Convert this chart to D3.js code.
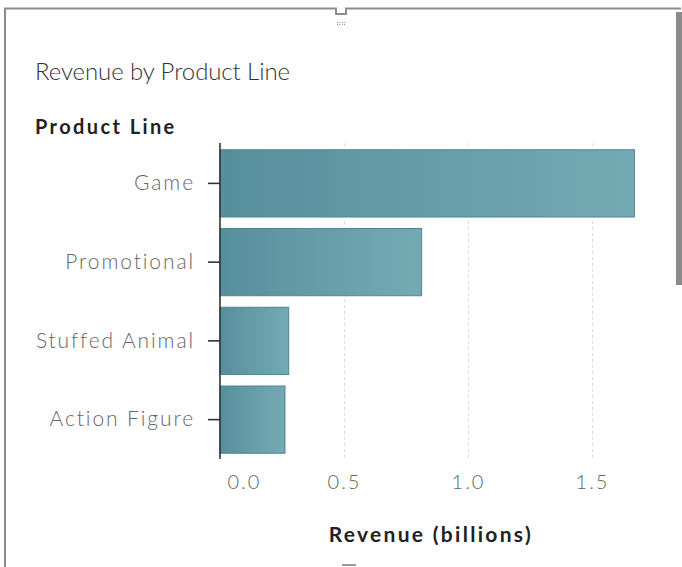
<!DOCTYPE html>
<html>
<head>
<meta charset="utf-8">
<script src="https://cdn.jsdelivr.net/npm/d3@7"></script>
<style>
  html, body { margin: 0; padding: 0; background: #fff; }
  svg { display: block; }
</style>
</head>
<body>
<script>
const categories = ["Game", "Promotional", "Stuffed Animal", "Action Figure"];
const revenue = [1.671, 0.813, 0.277, 0.262];
const tickValues = [0.0, 0.5, 1.0, 1.5];
const tickLabels = ["0.0", "0.5", "1.0", "1.5"];
const chartTitle = "Revenue by Product Line";
const yTitle = "Product Line";
const xTitle = "Revenue (billions)";

const W = 682, H = 567;
const font = "Lato, 'Open Sans', sans-serif";

const svg = d3.select("body").append("svg").attr("width", W).attr("height", H);

// gradient
const defs = svg.append("defs");
const grad = defs.append("linearGradient").attr("id", "barGrad")
  .attr("x1", "0").attr("y1", "0").attr("x2", "1").attr("y2", "0");
grad.append("stop").attr("offset", "0").attr("stop-color", "#568f9c");
grad.append("stop").attr("offset", "1").attr("stop-color", "#74aab4");

// frame
const frame = svg.append("g");
frame.append("path")
  .attr("d", "M5,567 V8.5 H336 V14 H346 V8.5 H681")
  .attr("fill", "none").attr("stroke", "#8c8c8c").attr("stroke-width", 2);
[0, 1].forEach(r => [0, 1, 2, 3].forEach(c => {
  frame.append("rect").attr("x", 337 + c * 2 + (c > 1 ? 1 : 0)).attr("y", 22 + r * 2)
    .attr("width", 1).attr("height", 1).attr("fill", "#999");
}));
frame.append("rect").attr("x", 676).attr("y", 12).attr("width", 6).attr("height", 273)
  .attr("fill", "#8a8a8a");
frame.append("rect").attr("x", 342).attr("y", 564).attr("width", 14).attr("height", 2)
  .attr("fill", "#999");

const x = d3.scaleLinear().domain([0, 1.7]).range([220, 641.6]);
const y = d3.scaleBand().domain(categories).range([144, 459])
  .paddingInner(0.146).paddingOuter(0.073);

// gridlines
svg.append("g").selectAll("line").data(tickValues.filter(d => d > 0)).join("line")
  .attr("x1", d => x(d) + 0.5).attr("x2", d => x(d) + 0.5)
  .attr("y1", 143).attr("y2", 459)
  .attr("stroke", "#dcdcdc").attr("stroke-width", 1).attr("stroke-dasharray", "3,3");

// bars
svg.append("g").selectAll("rect").data(categories).join("rect")
  .attr("x", x(0)).attr("y", d => y(d))
  .attr("width", (d, i) => x(revenue[i]) - x(0))
  .attr("height", y.bandwidth())
  .attr("fill", "url(#barGrad)")
  .attr("stroke", "#4f8693").attr("stroke-width", 1);

// y axis
const yAxis = svg.append("g").attr("transform", `translate(${x(0)},0)`)
  .call(d3.axisLeft(y).tickSize(12).tickPadding(13));
yAxis.select(".domain").attr("d", "M0,143V459").attr("stroke", "#333").attr("stroke-width", 1.6);
yAxis.selectAll(".tick line").attr("stroke", "#333").attr("stroke-width", 1.6);
yAxis.selectAll(".tick text")
  .attr("font-family", font).attr("font-weight", 300).attr("font-size", 21)
  .attr("letter-spacing", 1.9).attr("fill", "#666");

// x axis
const xAxis = svg.append("g").attr("transform", "translate(0,459)")
  .call(d3.axisBottom(x).tickValues(tickValues).tickFormat((d, i) => tickLabels[i]).tickSize(0).tickPadding(16));
xAxis.select(".domain").remove();
xAxis.selectAll(".tick text")
  .attr("font-family", font).attr("font-weight", 300).attr("font-size", 20)
  .attr("fill", "#666").attr("letter-spacing", 2);
xAxis.selectAll(".tick text").filter((d, i) => i === 0)
  .attr("text-anchor", "start").attr("dx", 7);

// titles
svg.append("text").attr("x", 35).attr("y", 80).text(chartTitle)
  .attr("font-family", font).attr("font-weight", 300).attr("font-size", 24).attr("fill", "#333")
  .attr("letter-spacing", -0.1);
svg.append("text").attr("x", 35).attr("y", 134).text(yTitle)
  .attr("font-family", font).attr("font-weight", 700).attr("font-size", 20)
  .attr("letter-spacing", 2.4).attr("fill", "#222");
svg.append("text").attr("x", (x.range()[0] + x.range()[1]) / 2).attr("y", 542)
  .attr("text-anchor", "middle").text(xTitle)
  .attr("font-family", font).attr("font-weight", 700).attr("font-size", 21)
  .attr("letter-spacing", 2.3).attr("fill", "#222");
</script>
</body>
</html>
